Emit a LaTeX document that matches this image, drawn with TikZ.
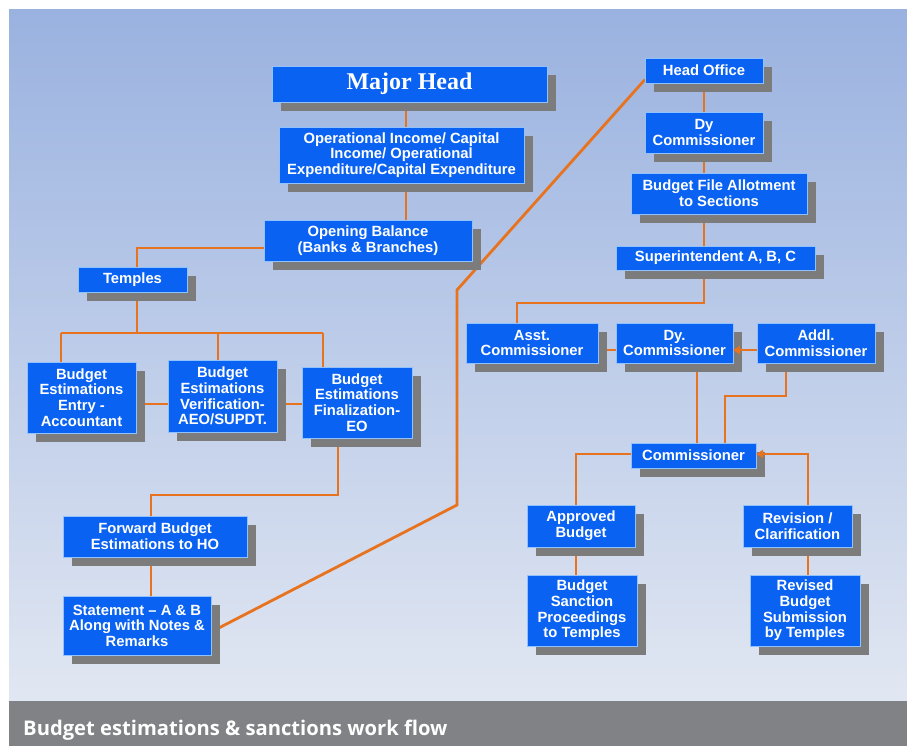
\documentclass[tikz,border=0pt]{standalone}
\usepackage{fontspec}
\setmainfont{Liberation Sans}
\newfontfamily\serifbold{Liberation Serif}
\newfontfamily\titlefont{Open Sans}
\usetikzlibrary{shadows,arrows.meta}
\definecolor{boxblue}{HTML}{0A62F2}
\definecolor{boxedge}{HTML}{8FC2FF}
\definecolor{shadowgray}{HTML}{7C7C7C}
\definecolor{linkorange}{HTML}{E8731E}
\definecolor{bandgray}{HTML}{808285}
\definecolor{bgtop}{HTML}{9AB2E0}
\definecolor{bgmid}{HTML}{C2D0EA}
\definecolor{bgbot}{HTML}{E1E7F2}
\pgfdeclarelayer{bg}
\pgfdeclarelayer{links}
\pgfsetlayers{bg,links,main}
\tikzset{
  box/.style={draw=boxedge, line width=0.8pt, fill=boxblue, text=white,
    font=\bfseries\fontsize{14.8}{15.6}\selectfont, align=center,
    inner sep=0pt, outer sep=0pt,
    drop shadow={shadow xshift=9pt, shadow yshift=-9pt, fill=shadowgray, opacity=1}},
  link/.style={draw=linkorange, line width=2.8pt, line join=miter},
  tip/.style={-{Triangle[length=7pt,width=8pt]}}
}
\newcommand{\bx}[6]{\node[box, minimum width=#4pt, minimum height=#5pt] (#1) at (#2,#3) {#6};}
\begin{document}
\begin{tikzpicture}[x=1pt,y=-1pt]
\useasboundingbox (0,0) rectangle (907,746);
\begin{pgfonlayer}{bg}
  \fill[white] (0,0) rectangle (907,746);
  \shade[top color=bgtop, middle color=bgmid, bottom color=bgbot] (9,10) rectangle (907,701);
  \fill[bandgray] (9,701) rectangle (907,746);
\end{pgfonlayer}
\node[anchor=base west, text=white, font=\titlefont\bfseries\fontsize{20.2}{24}\selectfont, inner sep=0pt] (title) at (23,735) {Budget estimations \& sanctions work flow};

% nodes
\node[box, minimum width=275pt, minimum height=36pt, font=\serifbold\bfseries\fontsize{24}{28}\selectfont] (major) at (409.5,84) {Major Head};
\bx{oper}{401.5}{155}{245}{56}{Operational Income/ Capital\\Income/ Operational\\Expenditure/Capital Expenditure}
\bx{open}{368}{240.5}{208}{41}{Opening Balance\\(Banks \& Branches)}
\bx{temples}{132.5}{279.5}{109}{25}{Temples}
\bx{entry}{81.5}{397.5}{109}{71}{Budget\\Estimations\\Entry -\\Accountant}
\bx{verif}{222.5}{396}{109}{72}{Budget\\Estimations\\Verification-\\AEO/SUPDT.}
\bx{final}{357}{402.5}{110}{71}{Budget\\Estimations\\Finalization-\\EO}
\bx{forward}{155}{536.5}{184}{41}{Forward Budget\\Estimations to HO}
\bx{statement}{137}{625.5}{148}{59}{Statement -- A \& B\\Along with Notes \&\\Remarks}
\bx{ho}{704}{70.5}{118}{25}{Head Office}
\bx{dycomm}{704}{132.5}{118}{41}{Dy\\Commissioner}
\bx{bfa}{719}{193.5}{176}{41}{Budget File Allotment\\to Sections}
\bx{super}{715.5}{258}{199}{24}{Superintendent A, B, C}
\bx{asst}{532}{343}{132}{40}{Asst.\\Commissioner}
\bx{dy}{674.5}{343}{117}{40}{Dy.\\Commissioner}
\bx{addl}{816}{343}{118}{40}{Addl.\\Commissioner}
\bx{comm}{693.5}{455.5}{125}{25}{Commissioner}
\bx{approved}{581}{526}{108}{42}{Approved\\Budget}
\bx{revision}{797.5}{526}{109}{42}{Revision /\\Clarification}
\bx{sanction}{582}{610.5}{110}{71}{Budget\\Sanction\\Proceedings\\to Temples}
\bx{revised}{805}{610.5}{110}{71}{Revised\\Budget\\Submission\\by Temples}

% junction coordinates
\coordinate (tbus) at (137,333);
\coordinate (b1) at (61,333);
\coordinate (b2) at (218,333);
\coordinate (b3) at (323,333);
\coordinate (f1) at (338,495);
\coordinate (f2) at (151,495);
\coordinate (d1) at (457,505);
\coordinate (d2) at (457,290);
\coordinate (s1) at (704,303);
\coordinate (a1) at (786,396);
\coordinate (a2) at (725,396);
\coordinate (v1) at (576,560);
\coordinate (v2) at (808,560);

\begin{pgfonlayer}{links}
  \draw[link] ([xshift=-3.5pt]major.south) -- ([xshift=-3.5pt]major.south |- oper.north);
  \draw[link] ([xshift=4.5pt]oper.south) -- ([xshift=4.5pt]oper.south |- open.north);
  \draw[link] ([yshift=-7.5pt]open.west) -| ([xshift=4.5pt]temples.north);
  \draw[link] ([xshift=4.5pt]temples.south) -- (tbus);
  \draw[link] (b1) -- (b3);
  \draw[link] (b1) -- (b1 |- entry.north);
  \draw[link] (b2) -- (b2 |- verif.north);
  \draw[link] (b3) -- (b3 |- final.north);
  \draw[link] ([yshift=-6.5pt]entry.east) -- ([yshift=-6.5pt]entry.east -| verif.west);
  \draw[link] ([yshift=-8pt]verif.east) -- ([yshift=-8pt]verif.east -| final.west);
  \draw[link] (f1 |- final.south) -- (f1) -- (f2) -- (f2 |- forward.north);
  \draw[link] (f2 |- forward.south) -- (f2 |- statement.north);
  \draw[link] ([yshift=-6.5pt]statement.east) -- (d1) -- (d2) -- ([yshift=-9pt]ho.west);
  \draw[link] (ho.south) -- (dycomm.north);
  \draw[link] (dycomm.south) -- (dycomm.south |- bfa.north);
  \draw[link] (dycomm.south |- bfa.south) -- (dycomm.south |- super.north);
  \draw[link] (s1 |- super.south) -- (s1) -| ([xshift=-15pt]asst.north);
  \draw[link] ([yshift=-7pt]asst.east) -- ([yshift=-7pt]asst.east -| dy.west);
  \draw[link] ([xshift=22.5pt]dy.south) -- ([xshift=22.5pt]dy.south |- comm.north);
  \draw[link] (a1 |- addl.south) -- (a1) -- (a2) -- (a2 |- comm.north);
  \draw[link] ([yshift=1.5pt]comm.west) -| (v1 |- approved.north);
  \draw[link] (v1 |- approved.south) -- (v1 |- sanction.north);
  \draw[link] (v2 |- revision.south) -- (v2 |- revised.north);
\end{pgfonlayer}
% arrowed links drawn over the shadows
\draw[link, tip] ([yshift=-7pt]addl.west) -- ([yshift=-7pt]addl.west -| dy.east);
\draw[link, tip] (v2 |- revision.north) |- ([yshift=1.5pt]comm.east);
\end{tikzpicture}
\end{document}
